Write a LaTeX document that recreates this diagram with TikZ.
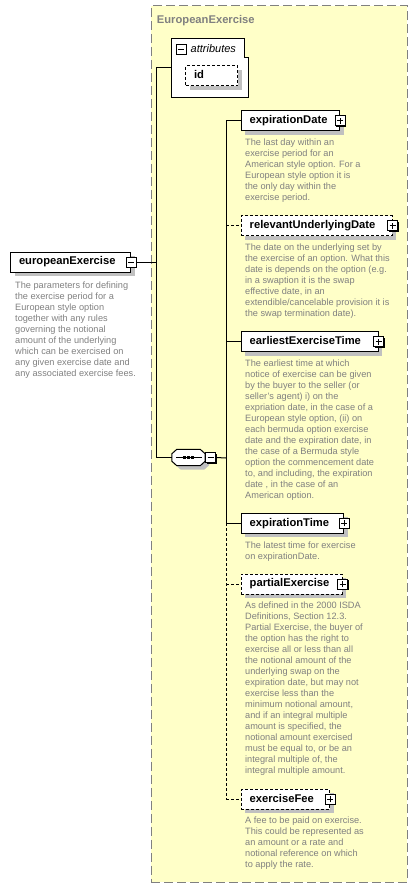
\documentclass[tikz,border=0pt]{standalone}
\usepackage{fontspec}
\setmainfont{Liberation Sans}
\usetikzlibrary{shadows}

\definecolor{ctypeF}{HTML}{FFFFC8}
\definecolor{ctypeE}{HTML}{808080}
\definecolor{docT}{HTML}{808080}
\definecolor{shadC}{HTML}{C0C0C0}

\newcommand\seqoutline[1]{([xshift=5pt]#1.north west) -- ([xshift=-5pt]#1.north east)
  -- ([yshift=-4.5pt]#1.north east) -- ([yshift=4.5pt]#1.south east)
  -- ([xshift=-5pt]#1.south east) -- ([xshift=5pt]#1.south west)
  -- ([yshift=4.5pt]#1.south west) -- ([yshift=-4.5pt]#1.north west) -- cycle}

\begin{document}
\begin{tikzpicture}[x=1pt, y=-1pt,
  elem/.style={draw, fill=white, line width=1pt, anchor=west, minimum height=20pt,
               inner xsep=8.5pt, inner ysep=0pt, text width=#1, align=left,
               text height=8pt, text depth=2.3pt,
               font=\fontsize{11.2}{13}\selectfont\bfseries,
               drop shadow={shadow xshift=4pt, shadow yshift=-4pt, fill=shadC, opacity=1}},
  opt/.style={dash pattern=on 3pt off 2pt},
  doc/.style={anchor=north west, inner sep=0pt, align=left, text=docT,
              font=\fontsize{9.2}{11}\selectfont, execute at begin node=\strut},
  pmbox/.style={draw, fill=white, line width=1pt, minimum size=10pt, inner sep=0pt,
                drop shadow={shadow xshift=1pt, shadow yshift=-1pt, fill=black, opacity=1}},
  plus/.style={pmbox, path picture={
      \draw[line width=1pt] ([xshift=-3pt]path picture bounding box.center) -- ([xshift=3pt]path picture bounding box.center)
                            ([yshift=-3pt]path picture bounding box.center) -- ([yshift=3pt]path picture bounding box.center);}},
  minus/.style={pmbox, path picture={
      \draw[line width=1pt] ([xshift=-3pt]path picture bounding box.center) -- ([xshift=3pt]path picture bounding box.center);}},
]
\useasboundingbox (0,0) rectangle (417,888);

% complex type container (drawn first = behind)
\node[draw=ctypeE, fill=ctypeF, dash pattern=on 9pt off 4pt, line width=1.3pt,
      minimum width=256pt, minimum height=876.7pt, inner sep=0pt, anchor=north west] (ctype) at (150.7,5) {};
\node[anchor=base west, inner sep=0pt, text=ctypeE, font=\fontsize{11.2}{13}\selectfont\bfseries] (title) at (156.7,23.3) {EuropeanExercise};

% --- attributes group ---
\node[minimum width=76.6pt, minimum height=59pt, inner sep=0pt] (attrs) at (210,67.8) {};
\draw[fill=white, line width=1pt] (attrs.north west) -- ([xshift=-4pt]attrs.north east) -- ++(0,19.4) -- ++(4,0)
  -- (attrs.south east) -- (attrs.south west) -- cycle;
\node[minus, drop shadow={opacity=0}] (attrsMinus) at (181.3,49.3) {};
\node[anchor=base west, inner sep=0pt, font=\fontsize{11}{13}\selectfont\itshape] (attrsLabel) at (190.5,52.7) {attributes};
\node[elem=35pt, opt] (id) at (185,76) {id};

% --- root element ---
\node[elem=103pt] (ee) at (10,262) {europeanExercise};
\node[minus] (eeMinus) at (ee.east) {};
\node[doc] (eeDoc) at (15,282) {The parameters for defining\\the exercise period for a\\European style option\\together with any rules\\governing the notional\\amount of the underlying\\which can be exercised on\\any given exercise date and\\any associated exercise fees.};

% --- sequence compositor ---
\node[minimum width=33pt, minimum height=16pt, inner sep=0pt] (seq) at (188.5,457.5) {};
\fill[shadC, transform canvas={xshift=4pt, yshift=-4pt}] \seqoutline{seq};
\draw[fill=white, line width=1pt] \seqoutline{seq};
\draw[line width=1pt] ([xshift=-12.5pt]seq.center) -- ([xshift=13pt]seq.center);
\foreach \dx in {-4,0,4}
  \fill ([xshift=\dx pt-1.3pt, yshift=1.3pt]seq.center) rectangle ++(2.6,2.6);
\node[minus, anchor=west] (seqMinus) at (seq.east) {};

% --- child elements ---
\node[elem=81.6pt] (expDate) at (240.7,120.7) {expirationDate};
\node[elem=134pt, opt] (relDate) at (240.7,225.7) {relevantUnderlyingDate};
\node[elem=120pt] (earlyTime) at (240.7,341.7) {earliestExerciseTime};
\node[elem=85.6pt] (expTime) at (240.7,523.3) {expirationTime};
\node[elem=84pt, opt] (partEx) at (240.7,584) {partialExercise};
\node[elem=71.3pt, opt] (exFee) at (240.7,799.3) {exerciseFee};
\foreach \n in {expDate,relDate,earlyTime,expTime,partEx,exFee}
  \node[plus] (\n-pm) at (\n.east) {};

\node[doc] (expDateDoc) at (245,138.8) {The last day within an\\exercise period for an\\American style option. For a\\European style option it is\\the only day within the\\exercise period.};
\node[doc] (relDateDoc) at (245,243.8) {The date on the underlying set by\\the exercise of an option. What this\\date is depends on the option (e.g.\\in a swaption it is the swap\\effective date, in an\\extendible/cancelable provision it is\\the swap termination date).};
\node[doc] (earlyTimeDoc) at (245,359.3) {The earliest time at which\\notice of exercise can be given\\by the buyer to the seller (or\\seller's agent) i) on the\\expriation date, in the case of a\\European style option, (ii) on\\each bermuda option exercise\\date and the expiration date, in\\the case of a Bermuda style\\option the commencement date\\to, and including, the expiration\\date , in the case of an\\American option.};
\node[doc] (expTimeDoc) at (245,541.8) {The latest time for exercise\\on expirationDate.};
\node[doc] (partExDoc) at (245,602) {As defined in the 2000 ISDA\\Definitions, Section 12.3.\\Partial Exercise, the buyer of\\the option has the right to\\exercise all or less than all\\the notional amount of the\\underlying swap on the\\expiration date, but may not\\exercise less than the\\minimum notional amount,\\and if an integral multiple\\amount is specified, the\\notional amount exercised\\must be equal to, or be an\\integral multiple of, the\\integral multiple amount.};
\node[doc] (exFeeDoc) at (245,817) {A fee to be paid on exercise.\\This could be represented as\\an amount or a rate and\\notional reference on which\\to apply the rate.};

% --- connectors ---
\coordinate (fork) at (156.7,262);
\coordinate (rail) at (226,458);
\draw[line width=1pt] (eeMinus.east) -- (fork);
\draw[line width=1pt] (attrs.west) -| (fork) |- (seq.west);
\draw[line width=1pt] (seqMinus.east) -- (rail);
\draw[line width=1pt] (rail |- expDate.west) -- (rail |- expTime.west);
\draw[line width=1pt, opt] (rail |- expTime.west) -- (rail |- exFee.west);
\foreach \n in {expDate,earlyTime,expTime}
  \draw[line width=1pt] (rail |- \n.west) -- (\n.west);
\foreach \n in {relDate,partEx,exFee}
  \draw[line width=1pt, opt] (rail |- \n.west) -- (\n.west);
\end{tikzpicture}
\end{document}
